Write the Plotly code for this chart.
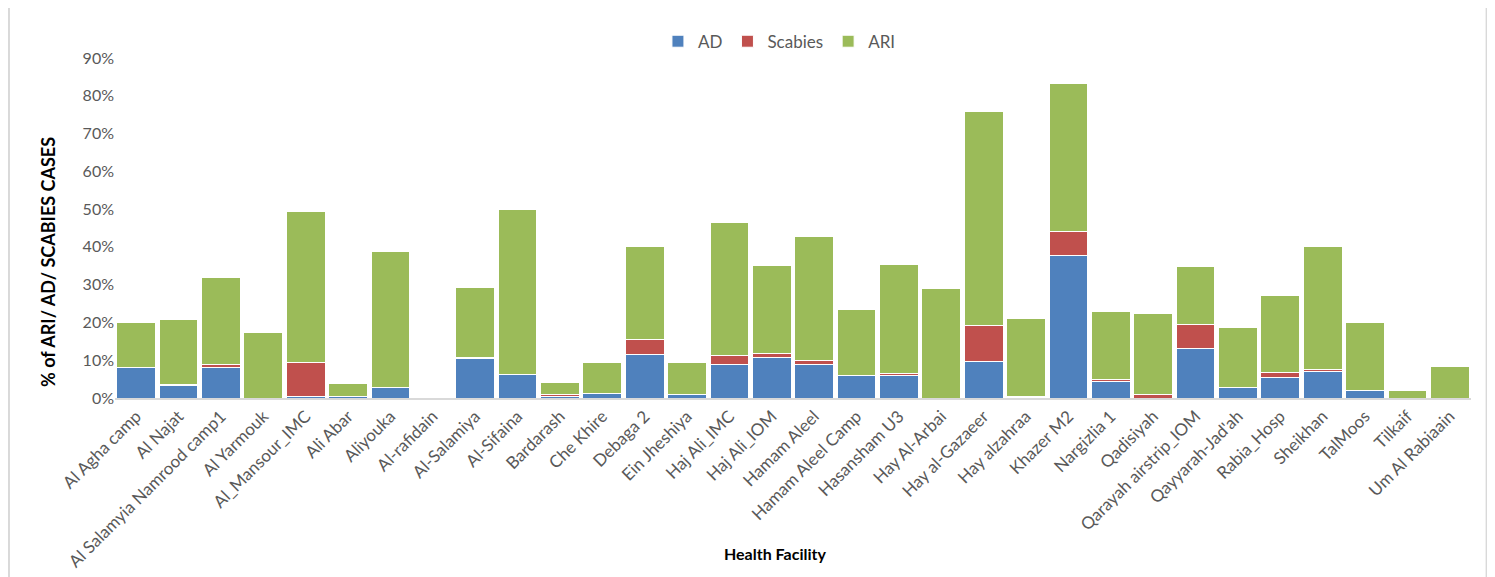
import plotly.graph_objects as go

facilities = ["Al Agha camp", "Al Najat", "Al Salamyia Namrood camp1", "Al Yarmouk", "Al_Mansour_IMC",
              "Ali Abar", "Aliyouka", "Al-rafidain", "Al-Salamiya", "Al-Sifaina", "Bardarash", "Che Khire",
              "Debaga 2", "Ein Jheshiya", "Haj Ali_IMC", "Haj Ali_IOM", "Hamam Aleel", "Hamam Aleel Camp",
              "Hasansham U3", "Hay Al-Arbai", "Hay al-Gazaeer", "Hay alzahraa", "Khazer M2", "Nargizlia 1",
              "Qadisiyah", "Qarayah airstrip_IOM", "Qayyarah-Jad'ah", "Rabia_Hosp", "Sheikhan", "TalMoos",
              "Tilkaif", "Um Al Rabiaain"]

ad = [8.1, 3.3, 8.1, 0.0, 0.5, 0.4, 2.7, 0.0, 10.5, 6.2, 0.5, 1.3,
      11.6, 0.8, 8.8, 10.8, 8.8, 5.9, 6.0, 0.0, 9.6, 0.2, 37.7, 4.4,
      0.0, 13.1, 2.9, 5.5, 6.9, 1.9, 0.0, 0.0]

scabies = [0.0, 0.3, 0.9, 0.0, 9.0, 0.0, 0.0, 0.0, 0.3, 0.0, 0.3, 0.0,
           4.0, 0.0, 2.5, 1.1, 1.2, 0.0, 0.4, 0.0, 9.7, 0.3, 6.3, 0.4,
           0.8, 6.4, 0.0, 1.2, 0.6, 0.0, 0.0, 0.0]

ari = [11.8, 17.2, 23.0, 17.4, 39.9, 3.5, 36.2, 0.0, 18.4, 43.7, 3.4, 8.0,
       24.6, 8.5, 35.1, 23.2, 32.8, 17.6, 29.0, 29.0, 56.5, 20.5, 39.3, 18.2,
       21.5, 15.3, 15.8, 20.4, 32.7, 18.1, 2.0, 8.4]

series = [("AD", ad, "#4F81BD"), ("Scabies", scabies, "#C0504D"), ("ARI", ari, "#9BBB59")]

FONT = "Lato, 'Liberation Sans', sans-serif"

fig = go.Figure()
for name, vals, color in series:
    fig.add_trace(go.Bar(
        x=facilities, y=vals, name=name,
        marker=dict(color=color, line=dict(color="white", width=1)),
    ))

fig.update_layout(
    width=1487, height=569,
    barmode="stack", bargap=0.085,
    paper_bgcolor="white", plot_bgcolor="white",
    margin=dict(l=107, r=24, t=50, b=179, autoexpand=False),
    font=dict(family=FONT, color="#595959"),
    showlegend=True,
    legend=dict(orientation="h", x=0.49, xanchor="center", y=1.048, yanchor="middle",
                font=dict(size=17, color="#595959"), traceorder="normal",
                itemwidth=30),
    xaxis=dict(
        tickangle=-45, tickfont=dict(size=17, color="#595959"),
        showline=True, linecolor="#D9D9D9", linewidth=1.5,
        ticks="", showgrid=False, automargin=False,
    ),
    yaxis=dict(
        range=[0, 90], dtick=10, ticksuffix="%",
        tickfont=dict(size=16, color="#595959"),
        showgrid=False, zeroline=False, showline=False, ticks="", automargin=False,
    ),
    annotations=[
        dict(text="<b>% of ARI/ AD/ SCABIES CASES</b>", xref="paper", yref="paper",
             x=-0.0495, y=0.40, textangle=-90, showarrow=False,
             font=dict(size=18, color="black", family=FONT), xanchor="center", yanchor="middle"),
        dict(text="<b>Health Facility</b>", xref="paper", yref="paper",
             x=0.487, y=-0.458, showarrow=False,
             font=dict(size=16, color="black", family=FONT), xanchor="center", yanchor="middle"),
    ],
    shapes=[
        dict(type="rect", xref="paper", yref="paper",
             x0=-0.0782, x1=1.0115, y0=-0.55, y1=1.154,
             line=dict(color="#D9D9D9", width=2), fillcolor="rgba(0,0,0,0)", layer="below"),
    ],
)

fig.write_html("out.html")
